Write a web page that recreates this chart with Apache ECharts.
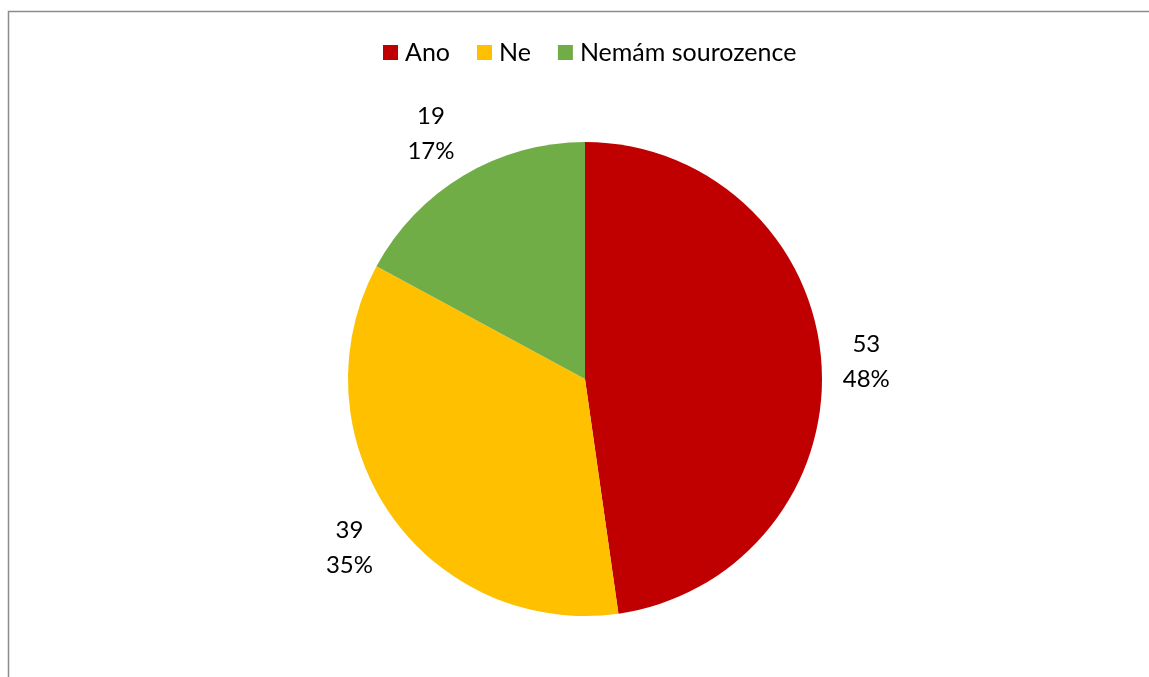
<!DOCTYPE html>
<html><head><meta charset="utf-8">
<script src="https://cdn.jsdelivr.net/npm/echarts@6/dist/echarts.min.js"></script>
<style>html,body{margin:0;padding:0;background:#fff}#c{width:1149px;height:677px}</style>
</head><body><div id="c"></div>
<script>
const categories = ['Ano', 'Ne', 'Nemám sourozence'];
const values = [53, 39, 19];
const colors = ['#C00000', '#FFC000', '#70AD47'];
const labelLen = [40, 44, 54];
const labelDy = [2, 8, 5];

const total = values.reduce((a, b) => a + b, 0);
const chart = echarts.init(document.getElementById('c'), null, {renderer: 'canvas'});
const FONT = 'Lato, "Open Sans", sans-serif';
chart.setOption({
  animation: false,
  graphic: [{
    type: 'rect', shape: {x: 8.5, y: 11.5, width: 1200, height: 700},
    style: {fill: 'none', stroke: '#8c8c8c', lineWidth: 1.5}, silent: true
  }],
  legend: {
    top: 35, left: 378, icon: 'rect', itemWidth: 15, itemHeight: 15, itemGap: 27,
    textStyle: {fontFamily: FONT, fontSize: 25, color: '#000', padding: [0, 0, 0, 2]},
    data: categories
  },
  series: [{
    type: 'pie', radius: 237, center: [585, 379], startAngle: 90, clockwise: true,
    label: {
      show: true, position: 'outside', fontFamily: FONT, fontSize: 24, color: '#000',
      lineHeight: 35,
      formatter: p => p.value + '\n' + Math.round(p.value / total * 100) + '%'
    },
    labelLine: {show: false, length: 20, length2: 0},
    labelLayout: p => ({align: 'center', dy: labelDy[p.dataIndex]}),
    data: categories.map((c, i) => ({
      name: c, value: values[i], itemStyle: {color: colors[i]},
      labelLine: {length: labelLen[i], length2: 0}
    }))
  }]
});
</script></body></html>
